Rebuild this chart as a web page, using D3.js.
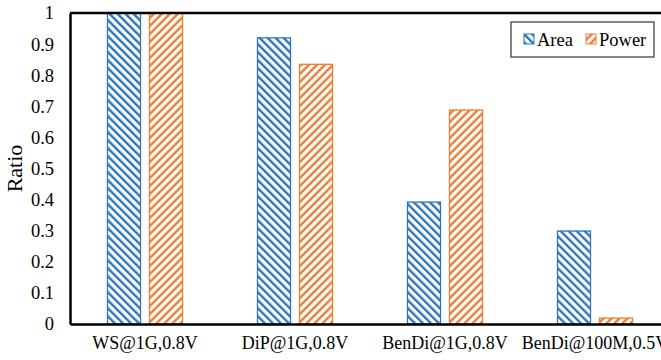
<!DOCTYPE html>
<html><head><meta charset="utf-8">
<script src="https://cdn.jsdelivr.net/npm/d3@7"></script>
<style>body{margin:0;background:#fff;} svg{display:block;}</style>
</head><body>
<script>
const categories = ["WS@1G,0.8V","DiP@1G,0.8V","BenDi@1G,0.8V","BenDi@100M,0.5V"];
const seriesNames = ["Area","Power"];
const areaValues = [1, 0.92, 0.392, 0.299];
const powerValues = [1, 0.835, 0.688, 0.019];
const yTicks = [0,0.1,0.2,0.3,0.4,0.5,0.6,0.7,0.8,0.9,1];

const W=661,H=360;
const m={l:70,t:13,r:-9,b:36};
const colors={Area:"#2E75B6",Power:"#ED7D31"};
const font="'Liberation Serif','DejaVu Serif',serif";

const svg=d3.select("body").append("svg").attr("width",W).attr("height",H);
const defs=svg.append("defs");
function pat(id,color,angle){
  const p=defs.append("pattern").attr("id",id).attr("patternUnits","userSpaceOnUse")
    .attr("width",5.66).attr("height",5.66).attr("patternTransform",`rotate(${angle})`);
  p.append("rect").attr("width",5.66).attr("height",5.66).attr("fill","#fff");
  p.append("rect").attr("x",0).attr("width",2.4).attr("height",5.66).attr("fill",color);
}
pat("pArea",colors.Area,-45);
pat("pPower",colors.Power,45);

const x0=d3.scaleBand().domain(categories).range([m.l,W-m.r]).paddingInner(0).paddingOuter(0);
const x1=d3.scaleBand().domain(seriesNames).range([0,x0.bandwidth()]).paddingInner(0.19).paddingOuter(0.88);
const y=d3.scaleLinear().domain([0,1]).range([H-m.b,m.t]);

const data=categories.map((c,i)=>({c,vals:[{k:"Area",v:areaValues[i]},{k:"Power",v:powerValues[i]}]}));

const g=svg.append("g").selectAll("g").data(data).join("g").attr("transform",d=>`translate(${x0(d.c)},0)`);
g.selectAll("rect").data(d=>d.vals).join("rect")
  .attr("x",d=>x1(d.k)+0.5).attr("y",d=>y(d.v))
  .attr("width",x1.bandwidth()-1).attr("height",d=>y(0)-y(d.v))
  .attr("fill",d=>d.k==="Area"?"url(#pArea)":"url(#pPower)")
  .attr("stroke",d=>colors[d.k]).attr("stroke-width",1.3);

svg.append("line").attr("x1",m.l).attr("x2",W).attr("y1",m.t).attr("y2",m.t).attr("stroke","#000").attr("stroke-width",2.5);
const yAxis=d3.axisLeft(y).tickValues(yTicks).tickSize(0).tickPadding(16).tickFormat(d=>d3.format("")(+d.toFixed(1)));
const ya=svg.append("g").attr("transform",`translate(${m.l},0)`).call(yAxis);
ya.select(".domain").attr("stroke","#000").attr("stroke-width",2.5);
ya.selectAll("text").attr("font-family",font).attr("font-size",18.5).attr("fill","#000");
const xAxis=d3.axisBottom(x0).tickSize(0).tickPadding(12);
const xa=svg.append("g").attr("transform",`translate(0,${y(0)})`).call(xAxis);
xa.select(".domain").attr("stroke","#000").attr("stroke-width",2.5);
xa.selectAll("text").attr("font-family",font).attr("font-size",18).attr("fill","#000");

svg.append("text").attr("transform",`translate(22,${(m.t+y(0))/2}) rotate(-90)`)
  .attr("text-anchor","middle").attr("font-family",font).attr("font-size",22).text("Ratio");

const lg=svg.append("g");
lg.append("rect").attr("x",511).attr("y",22).attr("width",143).attr("height",35).attr("fill","#fff").attr("stroke","#444").attr("stroke-width",1.3);
const items=[{k:"Area",x:524},{k:"Power",x:586}];
items.forEach(it=>{
  lg.append("rect").attr("x",it.x).attr("y",34).attr("width",10).attr("height",10)
    .attr("fill",it.k==="Area"?"url(#pArea)":"url(#pPower)").attr("stroke",colors[it.k]).attr("stroke-width",1);
  lg.append("text").attr("x",it.x+13).attr("y",45.5).attr("font-family",font).attr("font-size",18.5).text(it.k);
});
</script>
</body></html>
